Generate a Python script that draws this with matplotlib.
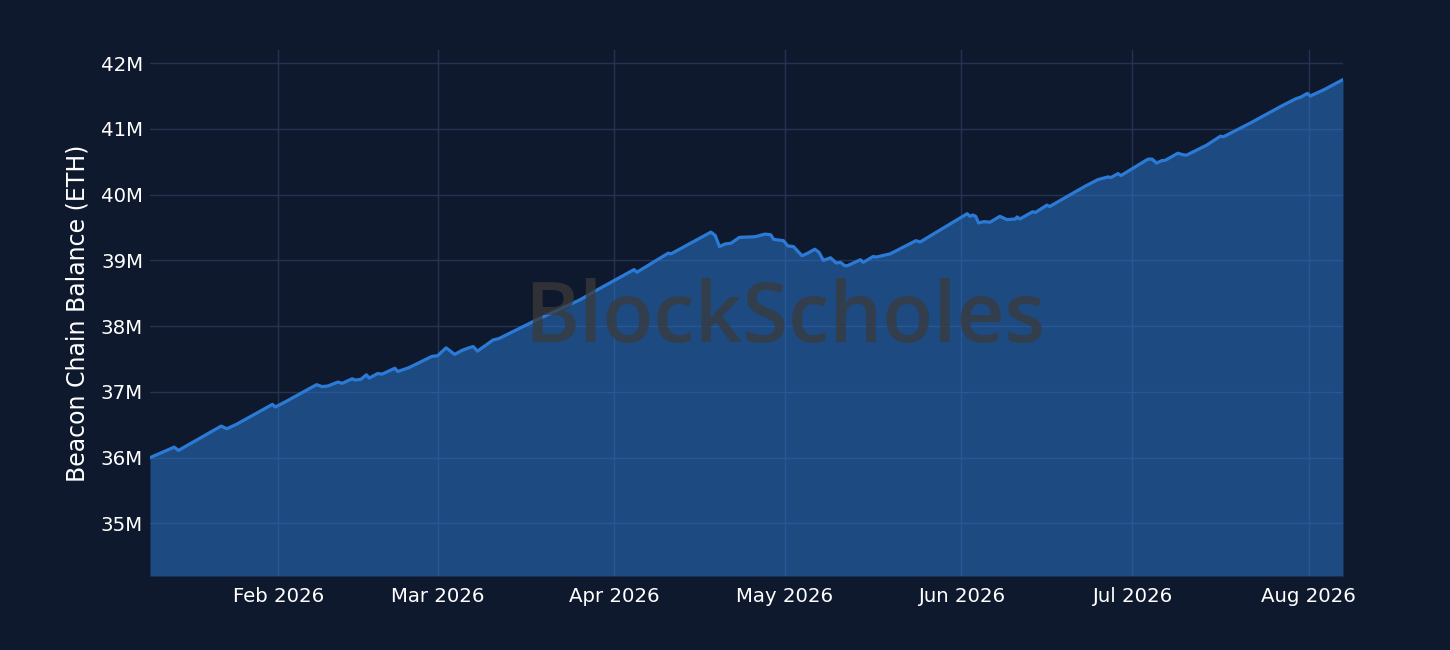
import matplotlib
matplotlib.use("Agg")
import matplotlib.pyplot as plt
import pandas as pd

dates = [
    "2026-01-09 12:00", "2026-01-13 18:00", "2026-01-14 12:00", "2026-01-22 00:00",
    "2026-01-23 00:00", "2026-01-24 18:00", "2026-01-31 00:00", "2026-01-31 12:00",
    "2026-02-02 12:00", "2026-02-07 18:00", "2026-02-08 18:00", "2026-02-09 18:00",
    "2026-02-11 12:00", "2026-02-12 06:00", "2026-02-14 00:00", "2026-02-14 12:00",
    "2026-02-15 12:00", "2026-02-16 12:00", "2026-02-17 00:00", "2026-02-18 12:00",
    "2026-02-19 06:00", "2026-02-21 12:00", "2026-02-22 00:00", "2026-02-24 00:00",
    "2026-02-28 00:00", "2026-03-01 00:00", "2026-03-02 12:00", "2026-03-04 00:00",
    "2026-03-05 06:00", "2026-03-06 12:00", "2026-03-07 06:00", "2026-03-08 00:00",
    "2026-03-10 18:00", "2026-03-11 18:00", "2026-03-18 12:00", "2026-03-26 00:00",
    "2026-03-29 00:00", "2026-04-04 12:00", "2026-04-05 00:00", "2026-04-10 12:00",
    "2026-04-11 00:00", "2026-04-18 00:00", "2026-04-18 18:00", "2026-04-19 12:00",
    "2026-04-20 12:00", "2026-04-21 12:00", "2026-04-23 00:00", "2026-04-25 18:00",
    "2026-04-27 12:00", "2026-04-28 12:00", "2026-04-29 00:00", "2026-04-30 18:00",
    "2026-05-01 12:00", "2026-05-02 12:00", "2026-05-04 00:00", "2026-05-05 00:00",
    "2026-05-06 06:00", "2026-05-07 00:00", "2026-05-07 18:00", "2026-05-09 00:00",
    "2026-05-10 00:00", "2026-05-10 18:00", "2026-05-11 12:00", "2026-05-12 00:00",
    "2026-05-14 06:00", "2026-05-14 18:00", "2026-05-16 12:00", "2026-05-17 00:00",
    "2026-05-19 12:00", "2026-05-24 00:00", "2026-05-24 18:00", "2026-06-02 00:00",
    "2026-06-02 12:00", "2026-06-03 00:00", "2026-06-03 12:00", "2026-06-04 00:00",
    "2026-06-05 00:00", "2026-06-06 00:00", "2026-06-07 18:00", "2026-06-09 00:00",
    "2026-06-10 12:00", "2026-06-10 18:00", "2026-06-11 06:00", "2026-06-13 12:00",
    "2026-06-14 00:00", "2026-06-16 00:00", "2026-06-16 12:00", "2026-06-22 18:00",
    "2026-06-25 00:00", "2026-06-26 18:00", "2026-06-27 06:00", "2026-06-28 12:00",
    "2026-06-29 00:00", "2026-07-03 18:00", "2026-07-04 12:00", "2026-07-05 06:00",
    "2026-07-06 06:00", "2026-07-06 18:00", "2026-07-09 00:00", "2026-07-09 18:00",
    "2026-07-10 12:00", "2026-07-14 00:00", "2026-07-16 12:00", "2026-07-17 00:00",
    "2026-07-21 18:00", "2026-07-27 06:00", "2026-07-29 18:00", "2026-07-30 12:00",
    "2026-07-31 18:00", "2026-08-01 06:00", "2026-08-03 18:00", "2026-08-07 00:00",
]

balance_m = [
    36.00, 36.16, 36.11, 36.48,
    36.44, 36.51, 36.81, 36.77,
    36.86, 37.11, 37.08, 37.09,
    37.15, 37.13, 37.20, 37.18,
    37.19, 37.26, 37.21, 37.28,
    37.27, 37.36, 37.31, 37.37,
    37.54, 37.55, 37.67, 37.57,
    37.63, 37.67, 37.69, 37.62,
    37.79, 37.81, 38.10, 38.40,
    38.55, 38.86, 38.82, 39.11,
    39.10, 39.43, 39.38, 39.21,
    39.25, 39.26, 39.35, 39.36,
    39.40, 39.39, 39.32, 39.30,
    39.22, 39.21, 39.07, 39.11,
    39.17, 39.12, 39.00, 39.04,
    38.96, 38.97, 38.92, 38.92,
    39.01, 38.97, 39.06, 39.05,
    39.10, 39.30, 39.28, 39.71,
    39.67, 39.69, 39.67, 39.57,
    39.59, 39.58, 39.67, 39.62,
    39.63, 39.66, 39.63, 39.74,
    39.73, 39.84, 39.82, 40.13,
    40.23, 40.27, 40.26, 40.32,
    40.29, 40.54, 40.54, 40.48,
    40.52, 40.52, 40.63, 40.61,
    40.60, 40.75, 40.89, 40.88,
    41.09, 41.35, 41.46, 41.48,
    41.54, 41.50, 41.60, 41.75,
]

y_ticks_m = [35, 36, 37, 38, 39, 40, 41, 42]
y_tick_labels = ["35M", "36M", "37M", "38M", "39M", "40M", "41M", "42M"]
x_ticks = ["2026-02-01", "2026-03-01", "2026-04-01", "2026-05-01",
           "2026-06-01", "2026-07-01", "2026-08-01"]
x_tick_labels = ["Feb 2026", "Mar 2026", "Apr 2026", "May 2026",
                 "Jun 2026", "Jul 2026", "Aug 2026"]
y_label = "Beacon Chain Balance (ETH)"
watermark = "BlockScholes"

BG = "#0f192d"
LINE = "#2b7bd6"
GRID = "#253353"

x = pd.to_datetime(dates)
y = [v * 1e6 for v in balance_m]

fig = plt.figure(figsize=(14.5, 6.5), dpi=100, facecolor=BG)
ax = fig.add_axes([150 / 1450, 1 - 576 / 650, (1343 - 150) / 1450, (576 - 50) / 650])
ax.set_facecolor(BG)

ymin, ymax = 34.2e6, 42.2e6
ax.fill_between(x, y, ymin, color=LINE, alpha=0.5, linewidth=0, zorder=2)
ax.plot(x, y, color=LINE, linewidth=2.3, zorder=3, solid_joinstyle="round")

ax.set_xlim(x[0], x[-1])
ax.set_ylim(ymin, ymax)

ax.set_yticks([v * 1e6 for v in y_ticks_m])
ax.set_yticklabels(y_tick_labels)
ax.set_xticks(pd.to_datetime(x_ticks))
ax.set_xticklabels(x_tick_labels)

ax.grid(True, color=GRID, linewidth=1.0, zorder=1)
ax.set_axisbelow(True)
ax.tick_params(axis="both", length=0, colors="white", labelsize=14.2)
ax.tick_params(axis="y", pad=5)
ax.tick_params(axis="x", pad=8)
for s in ax.spines.values():
    s.set_visible(False)

ax.set_ylabel(y_label, color="white", fontsize=17, labelpad=8)

fig.text(785 / 1450, 1 - 320 / 650, watermark, fontsize=60, family="Open Sans",
         fontweight="semibold", color="#3a3a3a", alpha=0.75,
         ha="center", va="center", zorder=10)

fig.savefig("out.png", dpi=100, facecolor=BG)
